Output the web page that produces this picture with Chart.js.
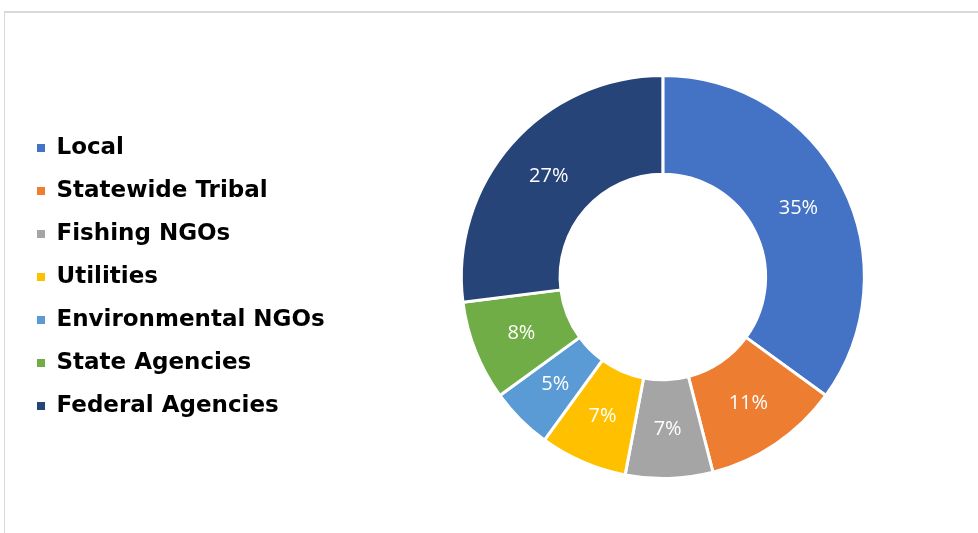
<!DOCTYPE html>
<html>
<head>
<meta charset="utf-8">
<style type="text/css">
	body{
		margin: 0;
		background: white;
		overflow: hidden;
	}
	.frame{
		position: absolute;
		left: 4px;
		top: 11px;
		width: 974px;
		height: 522px;
		border-top: 2px solid #d9d9d9;
		border-left: 1px solid #d9d9d9;
		overflow: hidden;
	}
	.chart{
		position: absolute;
		left: 0;
		top: 0;
	}
</style>
</head>
<body>
<div class="frame">
	<div class="chart" style="width:1020px;height:520px">
		<canvas id="myChart"></canvas>
	</div>
</div>

<script src="https://cdn.jsdelivr.net/npm/chart.js"></script>

<script type="text/javascript">

	var categorias = ['Local', 'Statewide Tribal', 'Fishing NGOs', 'Utilities', 'Environmental NGOs', 'State Agencies', 'Federal Agencies']
	var percentuais = [35, 11, 7, 7, 5, 8, 27]
	var cores = ['#4472C4', '#ED7D31', '#A5A5A5', '#FFC000', '#5B9BD5', '#70AD47', '#264478']

	// rotulos dentro das fatias
	var rotulos = {
		id: 'rotulos',
		afterDatasetsDraw: chart=>{
			var ctx = chart.ctx
			var meta = chart.getDatasetMeta(0)
			ctx.save()
			ctx.fillStyle = '#ffffff'
			ctx.font = '20px "Open Sans"'
			ctx.textAlign = 'center'
			ctx.textBaseline = 'middle'
			meta.data.forEach((arc, i)=>{
				var p = arc.tooltipPosition()
				ctx.fillText(percentuais[i] + '%', p.x, p.y)
			})
			ctx.restore()
		}
	}

	var ctx = document.getElementById('myChart')

	var dataPie = {
		labels: categorias,
		datasets: [{
			data: percentuais,
			backgroundColor: cores,
			borderColor: '#ffffff',
			borderWidth: 3,
			hoverOffset: 0
		}]
	}

	var cfgPie = {
		type: 'doughnut',
		data: dataPie,
		plugins: [rotulos],
		options: {
			responsive: true,
			maintainAspectRatio: false,
			animation: false,
			cutout: '51%',
			layout: {
				padding: {left: 12, right: 34, top: 61, bottom: 53}
			},
			plugins: {
				legend: {
					position: 'left',
					labels: {
						color: '#000000',
						boxWidth: 8,
						boxHeight: 8,
						padding: 20,
						font: {family: '"DejaVu Sans"', size: 23, weight: 'bold'},
						generateLabels: chart=>categorias.map((nome, i)=>({
							text: nome,
							fillStyle: cores[i],
							strokeStyle: cores[i],
							lineWidth: 0,
							fontColor: '#000000',
							hidden: false,
							index: i
						}))
					}
				},
				tooltip: {enabled: false}
			}
		}
	}

	new Chart(ctx, cfgPie)

</script>
</body>
</html>
